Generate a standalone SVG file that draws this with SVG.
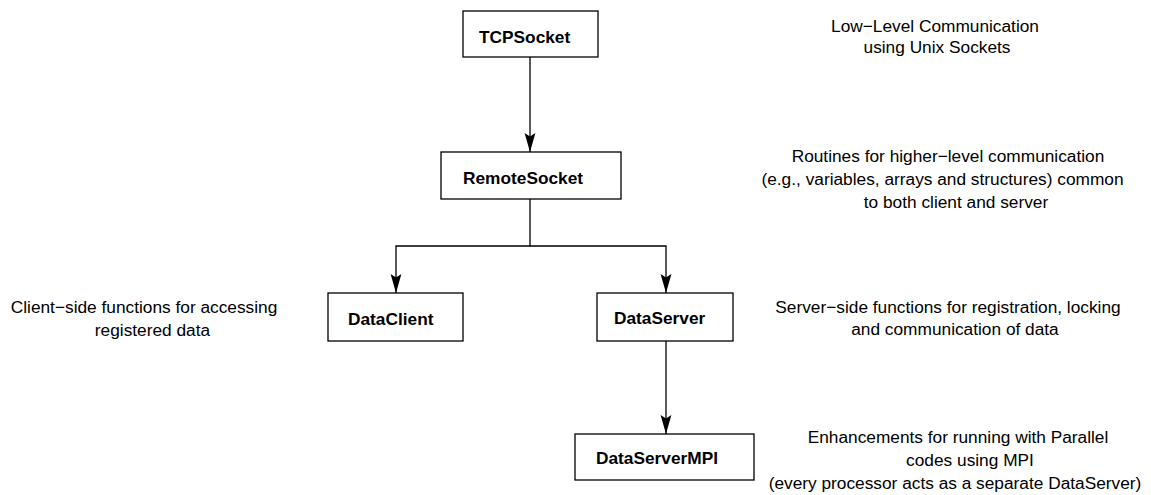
<svg xmlns="http://www.w3.org/2000/svg" width="1151" height="495" viewBox="0 0 1151 495">
  <style>
    .box { fill: #ffffff; stroke: #000000; stroke-width: 1.3; }
    .name { font-family: "Liberation Sans", Arial, sans-serif; font-size: 17.3px; font-weight: bold; fill: #000000; }
    .note { font-family: "Liberation Sans", Arial, sans-serif; font-size: 17.3px; fill: #000000; text-anchor: middle; }
    .link { fill: none; stroke: #000000; stroke-width: 1.3; marker-end: url(#head); }
  </style>
  <defs>
    <!-- filled, slightly notched arrowhead; tip sits on the path end -->
    <marker id="head" markerUnits="userSpaceOnUse" markerWidth="21" markerHeight="12" viewBox="-20 -6 21 12" refX="0" refY="0" orient="auto">
      <path d="M0,0 L-19,-5.4 L-15.5,0 L-19,5.4 Z" fill="#000000"/>
    </marker>
  </defs>
  <rect width="1151" height="495" fill="#ffffff"/>

  <!-- connectors -->
  <g id="connectors">
    <path class="link" d="M530,57 V152"/>
    <path class="link" d="M530,199 V246 H396 V293"/>
    <path class="link" d="M530,246 H666 V293"/>
    <path class="link" d="M666,341 V434"/>
  </g>

  <!-- class nodes -->
  <g id="TCPSocket">
    <rect class="box" x="463" y="11" width="135" height="46"/>
    <text class="name" x="479" y="43">TCPSocket</text>
  </g>
  <g id="RemoteSocket">
    <rect class="box" x="441" y="152" width="180" height="47"/>
    <text class="name" x="463" y="184">RemoteSocket</text>
  </g>
  <g id="DataClient">
    <rect class="box" x="328" y="293" width="135" height="48"/>
    <text class="name" x="348" y="325">DataClient</text>
  </g>
  <g id="DataServer">
    <rect class="box" x="597" y="293" width="136" height="48"/>
    <text class="name" x="614" y="324">DataServer</text>
  </g>
  <g id="DataServerMPI">
    <rect class="box" x="575" y="434" width="179" height="46"/>
    <text class="name" x="596" y="464">DataServerMPI</text>
  </g>

  <!-- descriptions -->
  <g id="notes">
    <text class="note" x="935" y="32">Low−Level Communication</text>
    <text class="note" x="937" y="53">using Unix Sockets</text>

    <text class="note" x="948" y="162">Routines for higher−level communication</text>
    <text class="note" x="942.5" y="185">(e.g., variables, arrays and structures) common</text>
    <text class="note" x="956" y="208">to both client and server</text>

    <text class="note" x="144" y="313">Client−side functions for accessing</text>
    <text class="note" x="152.5" y="336">registered data</text>

    <text class="note" x="948" y="313">Server−side functions for registration, locking</text>
    <text class="note" x="955" y="335">and communication of data</text>

    <text class="note" x="958" y="443">Enhancements for running with Parallel</text>
    <text class="note" x="970" y="466">codes using MPI</text>
    <text class="note" x="955" y="489">(every processor acts as a separate DataServer)</text>
  </g>
</svg>
